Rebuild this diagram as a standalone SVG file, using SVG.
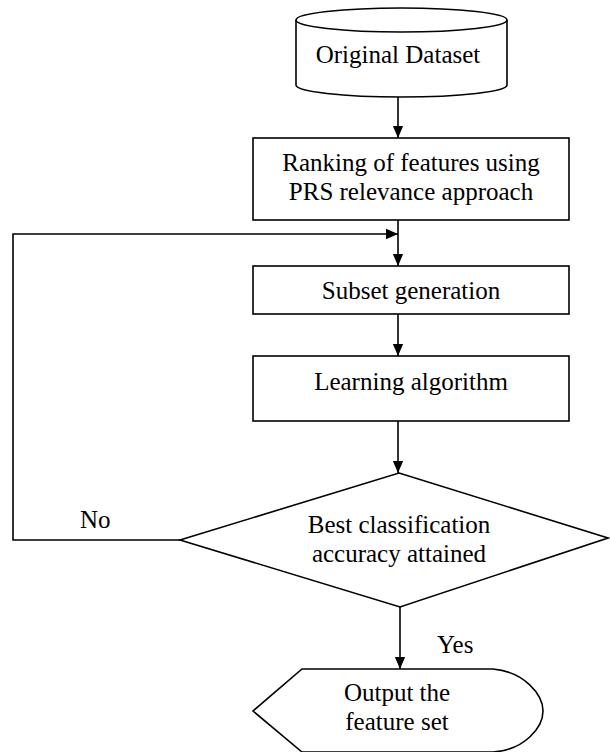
<svg xmlns="http://www.w3.org/2000/svg" width="610" height="752" viewBox="0 0 610 752">
<defs>
<style>
.s{fill:#fff;stroke:#000;stroke-width:1.6}
.c{fill:none;stroke:#000;stroke-width:1.6}
.t{font-family:"Liberation Serif","Times New Roman",serif;font-size:25px;fill:#000;text-anchor:middle}
.l{font-family:"Liberation Serif","Times New Roman",serif;font-size:25px;fill:#000}
</style>
<marker id="ah" markerWidth="12" markerHeight="14" viewBox="0 0 14 12" refX="14" refY="6" orient="auto" markerUnits="userSpaceOnUse">
<path d="M0,0 L14,6 L0,12 Z" fill="#000"/>
</marker>
</defs>
<g id="connectors">
<line class="c" x1="398" y1="97" x2="398" y2="138" marker-end="url(#ah)"/>
<line class="c" x1="398" y1="220" x2="398" y2="266" marker-end="url(#ah)"/>
<polyline class="c" points="180,540 13,540 13,234 398,234" marker-end="url(#ah)"/>
<line class="c" x1="398" y1="314" x2="398" y2="356" marker-end="url(#ah)"/>
<line class="c" x1="398" y1="421" x2="398" y2="473" marker-end="url(#ah)"/>
<line class="c" x1="400" y1="607" x2="400" y2="669" marker-end="url(#ah)"/>
<text class="l" x="80" y="528">No</text>
<text class="l" x="437" y="653">Yes</text>
</g>
<g id="dataset">
<path class="s" d="M296,20 L296,85 A105.5,12 0 0 0 507,85 L507,20"/>
<ellipse class="s" cx="401.5" cy="20" rx="105.5" ry="12"/>
<text class="t" x="398" y="63">Original Dataset</text>
</g>
<g id="ranking">
<rect class="s" x="253" y="138" width="316" height="82"/>
<text class="t" x="411" y="171">Ranking of features using</text>
<text class="t" x="411" y="200">PRS relevance approach</text>
</g>
<g id="subset">
<rect class="s" x="253" y="266" width="316" height="48"/>
<text class="t" x="411" y="299">Subset generation</text>
</g>
<g id="learning">
<rect class="s" x="253" y="356" width="316" height="65"/>
<text class="t" x="411" y="390">Learning algorithm</text>
</g>
<g id="decision">
<polygon class="s" points="399,473 608,538 400,607 180,540"/>
<text class="t" x="399" y="533">Best classification</text>
<text class="t" x="399" y="562">accuracy attained</text>
</g>
<g id="output">
<path class="s" d="M302,669 L493,669 C525,672 543,695 543,711 C543,727 525,750 493,752 L302,752 L253,711 Z"/>
<text class="t" x="397" y="701">Output the</text>
<text class="t" x="397" y="730">feature set</text>
</g>
</svg>
